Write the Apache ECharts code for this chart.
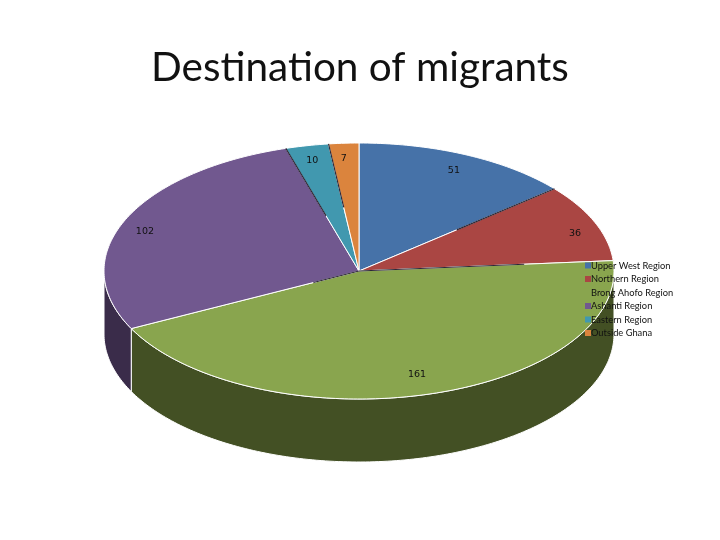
<!DOCTYPE html>
<html><head><meta charset="utf-8">
<style>html,body{margin:0;padding:0;background:#fff}#c{width:720px;height:540px}</style>
<script src="https://cdn.jsdelivr.net/npm/echarts@6/dist/echarts.min.js"></script>
</head><body><div id="c"></div>
<script>
const categories = ['Upper West Region','Northern Region','Brong Ahofo Region','Ashanti Region','Eastern Region','Outside Ghana'];
const values = [51,36,161,102,10,7];
const colors = ['#4672A8','#AA4643','#89A54E','#71588F','#4198AF','#DB843D'];
const wallColors = ['#2A4365','#662A28','#435024','#3A2C4A','#275B69','#834F25'];
const labelFactors = [[.88,.87],[.916,.78],[.84,.84],[.914,.78],[.90,.878],[1.0,.877]];
const darkEdgeSpans = [null,[.5,1],[0,.65],[0,.2],[.45,1],[.5,1]];

const CX=359, CY=271, RX=255, RY=128, DEPTH=63;
const total = values.reduce((a,b)=>a+b,0);
const pt = (t,dy=0)=>[CX+RX*Math.sin(t), CY-RY*Math.cos(t)+dy];
function arc(a,b,dy=0){const n=Math.max(2,Math.ceil((b-a)/(Math.PI/180)));const r=[];for(let i=0;i<=n;i++)r.push(pt(a+(b-a)*i/n,dy));return r;}

let acc=0;
const series = categories.map((name,i)=>{
  const start=acc; acc+=values[i];
  return {
    type:'custom', name, coordinateSystem:'none', silent:true,
    data:[[values[i],start]],
    renderItem(params,api){
      const a=api.value(1)/total*2*Math.PI, b=(api.value(1)+api.value(0))/total*2*Math.PI;
      const kids=[];
      const wa=Math.max(a,Math.PI/2), wb=Math.min(b,Math.PI*1.5);
      if(wb>wa){
        const top=arc(wa,wb), bot=arc(wa,wb,DEPTH).reverse();
        kids.push({type:'polygon',z2:1,shape:{points:top.concat(bot)},style:{fill:wallColors[i],stroke:'#fff',lineWidth:1}});
      }
      kids.push({type:'polygon',z2:10,shape:{points:[[CX,CY]].concat(arc(a,b))},style:{fill:colors[i],stroke:'#fff',lineWidth:1}});
      const span=darkEdgeSpans[i];
      if(span){
        const e=pt(a);
        kids.push({type:'line',z2:15,shape:{x1:CX+(e[0]-CX)*span[0],y1:CY+(e[1]-CY)*span[0],x2:CX+(e[0]-CX)*span[1],y2:CY+(e[1]-CY)*span[1]},
          style:{stroke:'#2d2837',lineWidth:1.2}});
      }
      const m=(a+b)/2, f=labelFactors[i];
      kids.push({type:'text',z2:20,style:{text:String(api.value(0)),x:CX+RX*Math.sin(m)*f[0],y:CY-RY*Math.cos(m)*f[1],
        fill:'#111',font:'9.5px "DejaVu Sans"',align:'center',verticalAlign:'middle'}});
      return {type:'group',children:kids};
    }
  };
});

const chart=echarts.init(document.getElementById('c'),null,{renderer:'canvas'});
chart.setOption({
  animation:false,
  color:colors,
  title:{text:'Destination of migrants',left:'center',top:47,padding:0,
    textStyle:{fontFamily:'Lato',fontSize:40.5,fontWeight:'normal',color:'#111'}},
  legend:{data:categories,orient:'vertical',left:580,top:256,itemWidth:6,itemHeight:6,itemGap:4.5,icon:'rect',
    selectedMode:false,textStyle:{fontFamily:'Lato',fontSize:9.3,color:'#111',padding:[0,0,0,-5]}},
  series
});
</script></body></html>
